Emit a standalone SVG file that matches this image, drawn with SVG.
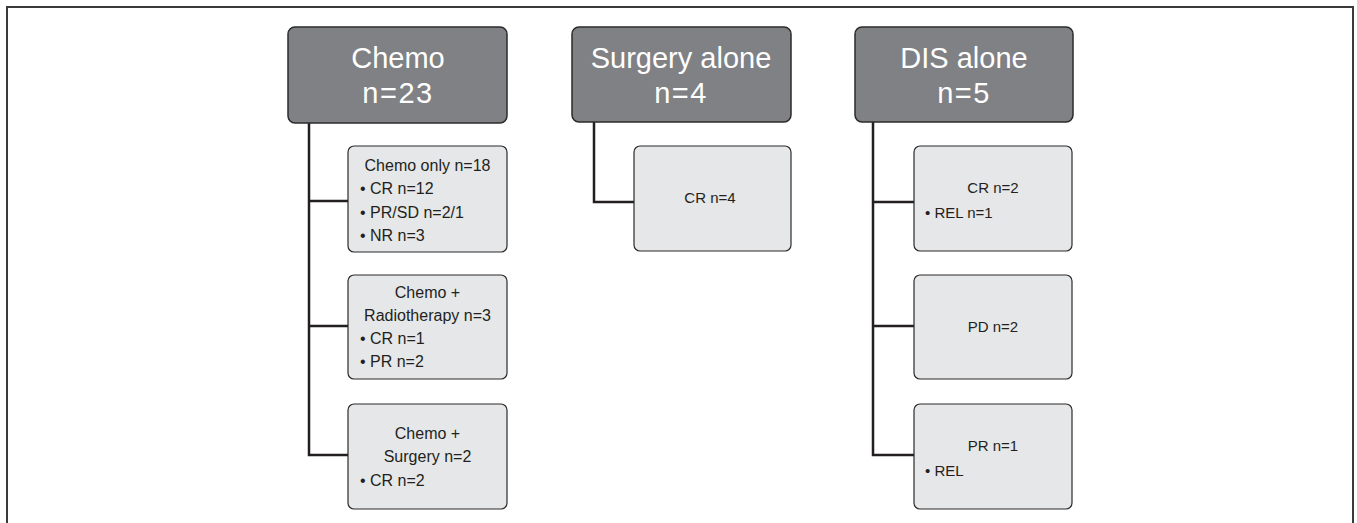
<svg xmlns="http://www.w3.org/2000/svg" width="1357" height="523" viewBox="0 0 1357 523">
<style>
.hd{fill:#808184;stroke:#2b2b2b;stroke-width:1.5}
.sb{fill:#e6e7e8;stroke:#2b2b2b;stroke-width:1.2}
.ht{font-family:"Liberation Sans",Arial,sans-serif;font-size:29px;fill:#fff;text-anchor:middle}
.n{letter-spacing:1.5px}
.t{font-family:"Liberation Sans",Arial,sans-serif;font-size:16px;fill:#231f20}
.s{font-family:"Liberation Sans",Arial,sans-serif;font-size:15px;fill:#231f20}
.c{text-anchor:middle}
.ln{fill:none;stroke:#231f20;stroke-width:2.5}
</style>
<rect width="1357" height="523" fill="#fff"/>
<path d="M7,523 V7 H1353 V523" fill="none" stroke="#3a3a3a" stroke-width="2"/>
<g id="connectors">
<path class="ln" d="M309,123 V455 H348 M309,201 H348 M309,326 H348"/>
<path class="ln" d="M594,122 V202 H634"/>
<path class="ln" d="M873,122 V455 H914 M873,202 H914 M873,326 H914"/>
</g>
<g id="chemo">
<rect class="hd" x="288" y="27" width="219" height="96" rx="7"/>
<text class="ht" x="398" y="68">Chemo</text>
<text class="ht n" x="398" y="103">n=23</text>
</g>
<g id="surgery">
<rect class="hd" x="572" y="27" width="219" height="95" rx="7"/>
<text class="ht" x="681" y="68">Surgery alone</text>
<text class="ht n" x="681" y="103">n=4</text>
</g>
<g id="dis">
<rect class="hd" x="855" y="27" width="218" height="95" rx="7"/>
<text class="ht" x="964" y="68">DIS alone</text>
<text class="ht n" x="964" y="103">n=5</text>
</g>
<g id="chemo-only">
<rect class="sb" x="348" y="146" width="159" height="106" rx="6"/>
<text class="t c" x="427.5" y="171">Chemo only n=18</text>
<text class="t" x="360" y="194">• CR n=12</text>
<text class="t" x="360" y="218">• PR/SD n=2/1</text>
<text class="t" x="360" y="241">• NR n=3</text>
</g>
<g id="chemo-radio">
<rect class="sb" x="348" y="275" width="159" height="104" rx="6"/>
<text class="t c" x="427.5" y="298">Chemo +</text>
<text class="t c" x="427.5" y="321">Radiotherapy n=3</text>
<text class="t" x="360" y="344">• CR n=1</text>
<text class="t" x="360" y="367">• PR n=2</text>
</g>
<g id="chemo-surgery">
<rect class="sb" x="348" y="404" width="159" height="105" rx="6"/>
<text class="t c" x="427.5" y="439">Chemo +</text>
<text class="t c" x="427.5" y="462">Surgery n=2</text>
<text class="t" x="360" y="486">• CR n=2</text>
</g>
<g id="surgery-cr">
<rect class="sb" x="634" y="146" width="157" height="105" rx="6"/>
<text class="s c" x="710" y="203">CR n=4</text>
</g>
<g id="dis-cr">
<rect class="sb" x="914" y="146" width="158" height="105" rx="6"/>
<text class="s c" x="993" y="193">CR n=2</text>
<text class="s" x="925" y="218">• REL n=1</text>
</g>
<g id="dis-pd">
<rect class="sb" x="914" y="275" width="158" height="104" rx="6"/>
<text class="s c" x="993" y="332">PD n=2</text>
</g>
<g id="dis-pr">
<rect class="sb" x="914" y="404" width="158" height="105" rx="6"/>
<text class="s c" x="993" y="451">PR n=1</text>
<text class="s" x="925" y="476">• REL</text>
</g>
</svg>
